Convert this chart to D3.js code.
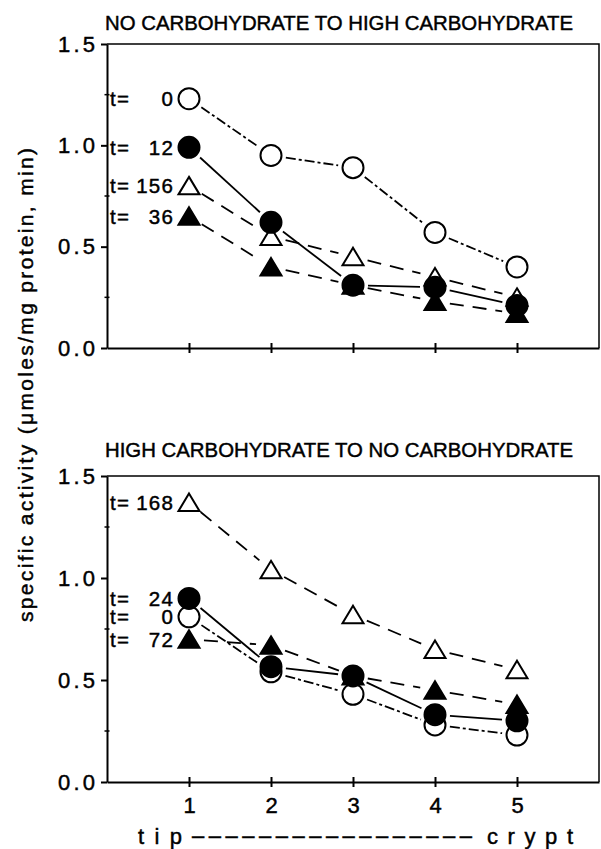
<!DOCTYPE html>
<html>
<head>
<meta charset="utf-8">
<script src="https://cdn.jsdelivr.net/npm/d3@7"></script>
<style>
  body { margin: 0; background: #fff; }
  svg { display: block; font-family: 'Liberation Sans', Arial, sans-serif; }
  svg text { stroke: #000; stroke-width: 0.45px; }
</style>
</head>
<body>
<div class="container"></div>
<script>
// tip-to-crypt fraction, 1 = tip, 5 = crypt
const positions = [1, 2, 3, 4, 5]
const yTicks = [0, 0.5, 1.0, 1.5]
const yMinor = [0.25, 0.75, 1.25]

// top panel: no carbohydrate -> high carbohydrate
const topTitle = 'NO CARBOHYDRATE TO HIGH CARBOHYDRATE'
const topT0 = [1.23, 0.95, 0.89, 0.57, 0.40]
const topT12 = [0.99, 0.62, 0.31, 0.30, 0.21]
const topT156 = [0.80, 0.55, 0.45, 0.35, 0.25]
const topT36 = [0.65, 0.40, 0.31, 0.23, 0.17]

// bottom panel: high carbohydrate -> no carbohydrate
const botTitle = 'HIGH CARBOHYDRATE TO NO CARBOHYDRATE'
const botT168 = [1.37, 1.04, 0.82, 0.65, 0.55]
const botT24 = [0.90, 0.565, 0.52, 0.33, 0.30]
const botT0 = [0.81, 0.54, 0.43, 0.28, 0.23]
const botT72 = [0.70, 0.67, 0.52, 0.45, 0.38]

const dashDot = '10,3,3,3'
const longDash = '14,9'

var svg = d3.select('.container')
            .append('svg')
            .attr('width', 601)
            .attr('height', 849)

var x = d3.scaleLinear().domain([0, 6]).range([107, 599])

drawPanel({
  top: 44, bottom: 348, title: topTitle, titleY: 30, tickLabels: false,
  series: [
    { t: '0', values: topT0, shape: 'circle', filled: false, dash: dashDot },
    { t: '156', values: topT156, shape: 'triangle', filled: false, dash: longDash },
    { t: '36', values: topT36, shape: 'triangle', filled: true, dash: longDash },
    { t: '12', values: topT12, shape: 'circle', filled: true, dash: null }
  ]
})

drawPanel({
  top: 476, bottom: 782, title: botTitle, titleY: 457, tickLabels: true,
  series: [
    { t: '0', values: botT0, shape: 'circle', filled: false, dash: dashDot },
    { t: '168', values: botT168, shape: 'triangle', filled: false, dash: longDash },
    { t: '72', values: botT72, shape: 'triangle', filled: true, dash: longDash },
    { t: '24', values: botT24, shape: 'circle', filled: true, dash: null }
  ]
})

// shared y label
svg.append('text')
   .attr('transform', 'translate(33,385) rotate(-90)')
   .attr('text-anchor', 'middle')
   .attr('font-size', 21)
   .attr('textLength', 474)
   .attr('lengthAdjust', 'spacing')
   .text('specific activity  (\u03bcmoles/mg protein, min)')

// tip ---- crypt
var xl = svg.append('g').attr('font-size', 22)
xl.append('text').attr('x', 138).attr('y', 844)
  .attr('textLength', 44).attr('lengthAdjust', 'spacing').text('tip')
xl.append('text').attr('x', 192).attr('y', 843)
  .attr('textLength', 280).attr('lengthAdjust', 'spacing').text('\u2013\u2013\u2013\u2013\u2013\u2013\u2013\u2013\u2013\u2013\u2013\u2013\u2013\u2013\u2013\u2013\u2013')
xl.append('text').attr('x', 487).attr('y', 844)
  .attr('textLength', 86).attr('lengthAdjust', 'spacing').text('crypt')

function drawPanel (opt) {
  var y = d3.scaleLinear().domain([0, 1.5]).range([opt.bottom, opt.top])
  var g = svg.append('g')

  g.append('text')
   .attr('x', 105)
   .attr('y', opt.titleY)
   .attr('font-size', 20.5)
   .attr('textLength', 468)
   .attr('lengthAdjust', 'spacingAndGlyphs')
   .text(opt.title)

  // frame top + right
  g.append('path')
   .attr('d', 'M' + x(0) + ',' + y(1.5) + 'H' + x(6) + 'V' + y(0))
   .attr('fill', 'none')
   .attr('stroke', '#000')
   .attr('stroke-width', 1.5)

  var yAxis = g.append('g')
               .attr('transform', 'translate(' + x(0) + ',0)')
               .call(d3.axisLeft(y)
                       .tickValues(yTicks)
                       .tickSize(6)
                       .tickSizeOuter(0)
                       .tickPadding(6)
                       .tickFormat(d3.format('.1f')))
  yAxis.select('.domain').attr('stroke-width', 2)
  yAxis.selectAll('.tick line').attr('stroke-width', 2)
  yAxis.selectAll('.tick text')
       .attr('font-size', 22)
       .attr('font-family', null)
       .attr('textLength', 37)
       .attr('lengthAdjust', 'spacing')
       .attr('fill', '#000')

  g.selectAll('.minor')
   .data(yMinor)
   .enter()
   .append('line')
   .attr('x1', x(0) - 2.5)
   .attr('x2', x(0) + 2.5)
   .attr('y1', function (d) { return y(d) })
   .attr('y2', function (d) { return y(d) })
   .attr('stroke', '#000')
   .attr('stroke-width', 1.5)

  var xAxis = g.append('g')
               .attr('transform', 'translate(0,' + y(0) + ')')
               .call(d3.axisBottom(x)
                       .tickValues(positions)
                       .tickSize(5)
                       .tickSizeOuter(0)
                       .tickPadding(10)
                       .tickFormat(opt.tickLabels ? d3.format('d') : ''))
  xAxis.select('.domain').attr('stroke-width', 2)
  xAxis.selectAll('.tick line').attr('y1', -5).attr('stroke-width', 2)
  xAxis.selectAll('.tick text')
       .attr('font-size', 22)
       .attr('font-family', null)
       .attr('fill', '#000')

  // connecting lines, trimmed so they stop short of the markers
  var trim = 15
  opt.series.forEach(function (s) {
    var pts = s.values.map(function (v, i) { return [x(positions[i]), y(v)] })
    var segs = d3.pairs(pts).map(function (p) {
      var dx = p[1][0] - p[0][0]
      var dy = p[1][1] - p[0][1]
      var len = Math.sqrt(dx * dx + dy * dy)
      var ux = dx / len
      var uy = dy / len
      return [p[0][0] + ux * trim, p[0][1] + uy * trim, p[1][0] - ux * trim, p[1][1] - uy * trim]
    })
    g.selectAll(null)
     .data(segs)
     .enter()
     .append('line')
     .attr('x1', function (d) { return d[0] })
     .attr('y1', function (d) { return d[1] })
     .attr('x2', function (d) { return d[2] })
     .attr('y2', function (d) { return d[3] })
     .attr('stroke', '#000')
     .attr('stroke-width', 1.8)
     .attr('stroke-dasharray', s.dash)
  })

  // markers
  opt.series.forEach(function (s) {
    var m = g.selectAll(null)
             .data(s.values)
             .enter()
    var shp
    if (s.shape === 'circle') {
      shp = m.append('circle')
             .attr('cx', function (d, i) { return x(positions[i]) })
             .attr('cy', function (d) { return y(d) })
             .attr('r', 10.5)
    } else {
      shp = m.append('path')
             .attr('d', 'M0,-9L10.5,8.5L-10.5,8.5Z')
             .attr('transform', function (d, i) {
               return 'translate(' + x(positions[i]) + ',' + y(d) + ')'
             })
    }
    shp.attr('fill', s.filled ? '#000' : '#fff')
       .attr('stroke', '#000')
       .attr('stroke-width', 2)
       .attr('stroke-linejoin', 'miter')
  })

  // series labels next to the tip markers
  var lab = g.selectAll('.serieslabel')
             .data(opt.series)
             .enter()
             .append('text')
             .attr('class', 'serieslabel')
             .attr('font-size', 20.5)
             .attr('letter-spacing', 1.2)
             .attr('y', function (d) { return y(d.values[0]) })
             .attr('dy', '0.36em')
  lab.append('tspan')
     .attr('x', 110)
     .text('t=')
  lab.append('tspan')
     .attr('x', 174)
     .attr('text-anchor', 'end')
     .text(function (d) { return d.t })
}
</script>
</body>
</html>
